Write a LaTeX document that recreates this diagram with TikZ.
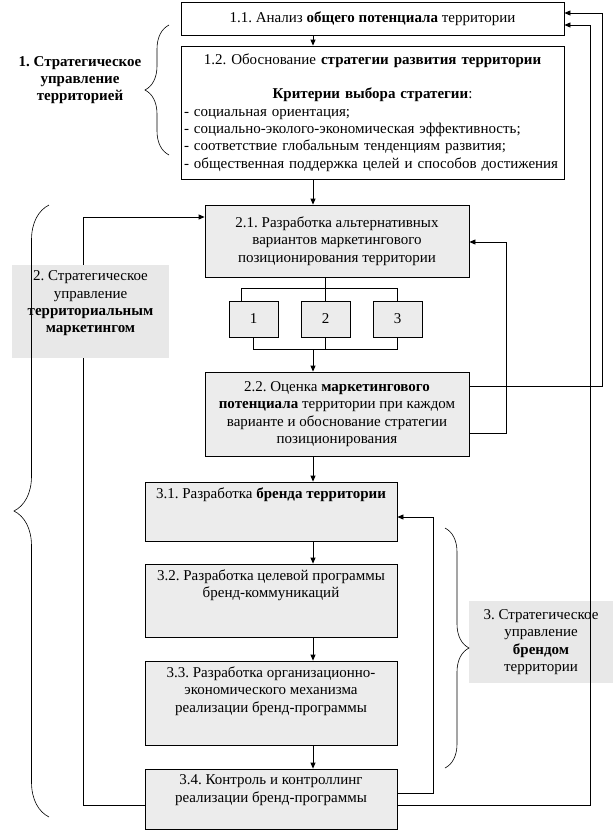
\documentclass[tikz,border=0pt]{standalone}
\usepackage{fontspec}
\setmainfont{Liberation Serif}
\usetikzlibrary{arrows.meta}
\usetikzlibrary{positioning}
\usetikzlibrary{decorations.pathreplacing}

\tikzset{
  every node/.style={font=\fontsize{15}{17.3}\selectfont},
  wbox/.style={draw, line width=0.8pt, fill=white, inner sep=0pt},
  gbox/.style={draw, line width=0.8pt, fill=gray!15, inner sep=0pt},
  lbl/.style={fill=gray!18, inner sep=0pt},
  txt/.style={inner sep=0pt, align=center},
  arr/.style={line width=0.8pt, -{Triangle[length=6pt,width=5pt]}},
  ln/.style={line width=0.8pt},
  brc/.style={line width=0.6pt, decorate, decoration={brace, amplitude=#1}}
}

\begin{document}
\frenchspacing
\begin{tikzpicture}[x=1pt, y=-1pt]
\useasboundingbox (0,0) rectangle (613,830);
\coordinate (axis) at (313,0);

\node[wbox, minimum width=383, minimum height=33] (b11) at (372.5,18.5)
  {1.1. Анализ \textbf{общего потенциала} территории};
\node[wbox, minimum width=383, minimum height=133, text width=377, align=left] (b12) at (372.5,112.5)
  {\centering 1.2. Обоснование \textbf{стратегии развития территории}\\[17.3pt]
   \textbf{Критерии выбора стратегии}:\par\raggedright
   - социальная ориентация;\\
   - социально-эколого-экономическая эффективность;\\
   - соответствие глобальным тенденциям развития;\\
   - общественная поддержка целей и способов достижения};

\node[gbox, minimum width=264, minimum height=72, align=center] (b21) at (337,241)
  {2.1. Разработка альтернативных\\ вариантов маркетингового\\ позиционирования территории};
\foreach \x [evaluate=\x as \xc using 253.5+72*(\x-1)] in {1,2,3} {
  \node[gbox, minimum width=49, minimum height=36] (v\x) at (\xc,319) {\x};
}
\node[gbox, minimum width=264, minimum height=84, align=center] (b22) at (337,414)
  {2.2. Оценка \textbf{маркетингового}\\ \textbf{потенциала} территории при каждом\\
   варианте и обоснование стратегии\\ позиционирования};

\node[gbox, minimum width=252, minimum height=59] (b31) at (271,511.5) {};
\node[txt, below=6pt of b31.north] (t31) {3.1. Разработка \textbf{бренда территории}};
\node[gbox, minimum width=252, minimum height=73] (b32) at (271,600.5) {};
\node[txt, below=6pt of b32.north] (t32) {3.2. Разработка целевой программы\\ бренд-коммуникаций};
\node[gbox, minimum width=252, minimum height=84] (b33) at (271,703) {};
\node[txt, below=6pt of b33.north] (t33) {3.3. Разработка организационно-\\ экономического механизма\\ реализации бренд-программы};
\node[gbox, minimum width=252, minimum height=60] (b34) at (271,799) {};
\node[txt, below=6pt of b34.north] (t34) {3.4. Контроль и контроллинг\\ реализации бренд-программы};

\node[lbl, minimum width=144, minimum height=82, align=center] (lab3) at (541,642)
  {3. Стратегическое\\ управление\\ \textbf{брендом}\\ территории};

\draw[arr] (b11.south -| axis) -- (b12.north -| axis);
\draw[arr] (b12.south -| axis) -- (b21.north -| axis);
\draw[ln] (b21.south -| v2.north) -- (v2.north);
\draw[ln] (v1.north -| 241,0) -- ++(0,-12) -| (v3.north);
\draw[ln] (v1.south) -- ++(0,12) -| (v3.south);
\draw[ln] (v2.south) -- ++(0,12);
\draw[arr] (313,349) -- (b22.north -| axis);
\draw[arr] (b22.south -| axis) -- (b31.north -| axis);
\draw[arr] (b31.south -| axis) -- (b32.north -| axis);
\draw[arr] (b32.south -| axis) -- (b33.north -| axis);
\draw[arr] (b33.south -| axis) -- (b34.north -| axis);

\draw[arr] ([yshift=-19pt]b22.east) -- ++(37,0) |- ([yshift=-1pt]b21.east);
\draw[arr] ([yshift=28pt]b22.east) -- ++(133,0) |- ([yshift=5.5pt]b11.east);
\draw[arr] ([yshift=6pt]b34.east) -- ++(36,0) |- ([yshift=-5.5pt]b31.east);
\draw[arr] ([yshift=-6pt]b34.east) -- ++(193,0) |- ([yshift=-6.5pt]b11.east);
\draw[arr] ([yshift=-6pt]b34.west) -- ++(-61,0) |- ([yshift=24pt]b21.west);

\node[lbl, minimum width=157, minimum height=93] (lab2) at (90.5,311.5) {};
\node[txt, below=6pt of lab2.north] (t2)
  {2. Стратегическое\\ управление\\ \textbf{территориальным}\\ \textbf{маркетингом}};
\node[txt, font=\fontsize{15}{17.3}\selectfont\bfseries] (lab1) at (80,80)
  {1. Стратегическое\\ управление\\ территорией};

\draw[brc=24pt] (169,155) -- (169,25);
\draw[brc=35pt] (49,817) -- (49,205);
\draw[brc=24pt] (445,528) -- (445,768);
\end{tikzpicture}
\end{document}
